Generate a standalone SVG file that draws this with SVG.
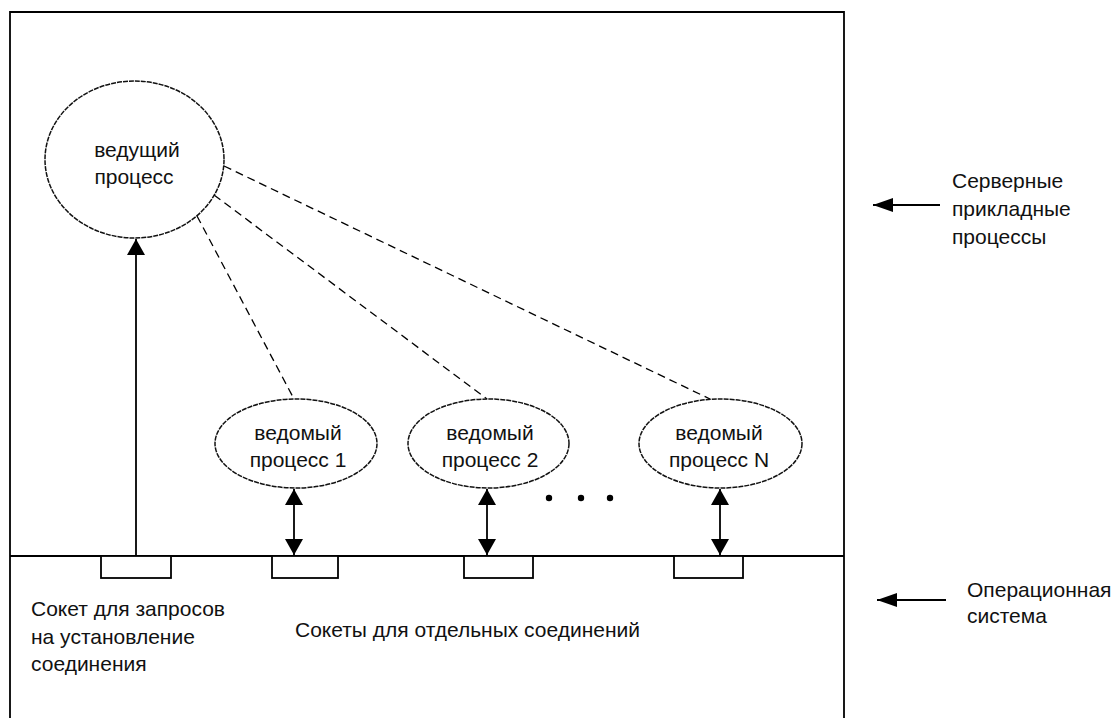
<svg xmlns="http://www.w3.org/2000/svg" width="1117" height="718" viewBox="0 0 1117 718">
  <defs>
    <style>
      .ln{stroke:#000;stroke-width:1.8;fill:none}
      .nd{stroke:#111;stroke-width:1.5;fill:#fff;stroke-dasharray:5,1}
      .dash{stroke:#000;stroke-width:1.3;fill:none;stroke-dasharray:8,5}
      .tx{font-family:"Liberation Sans",Arial,sans-serif;font-size:21px;fill:#111}
      .c{text-anchor:middle}
      .sock{stroke:#000;stroke-width:1.8;fill:#fff}
    </style>
    <marker id="ahb" viewBox="0 0 16 18" refX="16" refY="9" markerWidth="17" markerHeight="18" markerUnits="userSpaceOnUse" orient="auto-start-reverse">
      <path d="M0,0 L16,9 L0,18 z" fill="#000"/>
    </marker>
    <marker id="ahs" viewBox="0 0 20 14" refX="20" refY="7" markerWidth="20" markerHeight="14" markerUnits="userSpaceOnUse" orient="auto-start-reverse">
      <path d="M0,0 L20,7 L0,14 z" fill="#000"/>
    </marker>
  </defs>
  <rect width="1117" height="718" fill="#fff"/>

  <g id="frame">
    <path class="ln" d="M10,718 V12 H844 V718"/>
    <line class="ln" x1="10" y1="556" x2="844" y2="556"/>
  </g>

  <g id="sockets">
    <rect class="sock" x="101" y="556" width="70" height="22"/>
    <rect class="sock" x="272" y="556" width="66" height="22"/>
    <rect class="sock" x="464" y="556" width="69" height="22"/>
    <rect class="sock" x="674" y="556" width="69" height="22"/>
  </g>

  <g id="connectors">
    <line class="dash" x1="197" y1="216" x2="294" y2="399"/>
    <line class="dash" x1="214" y1="195" x2="487" y2="399"/>
    <line class="dash" x1="224" y1="166" x2="710" y2="399"/>
    <line class="ln" x1="136" y1="556" x2="136" y2="239" marker-end="url(#ahb)"/>
    <line class="ln" x1="294" y1="489" x2="294" y2="555" marker-start="url(#ahb)" marker-end="url(#ahb)"/>
    <line class="ln" x1="487" y1="489" x2="487" y2="555" marker-start="url(#ahb)" marker-end="url(#ahb)"/>
    <line class="ln" x1="720" y1="489" x2="720" y2="555" marker-start="url(#ahb)" marker-end="url(#ahb)"/>
    <line class="ln" x1="940" y1="205" x2="873" y2="205" marker-end="url(#ahs)"/>
    <line class="ln" x1="946" y1="600" x2="877" y2="600" marker-end="url(#ahs)"/>
  </g>

  <g id="master">
    <ellipse class="nd" cx="134.5" cy="159.5" rx="89.5" ry="78.5"/>
    <text class="tx c" x="137" y="157">ведущий</text>
    <text class="tx c" x="134" y="184">процесс</text>
  </g>

  <g id="slave1">
    <ellipse class="nd" cx="296" cy="443.5" rx="81" ry="44.5"/>
    <text class="tx c" x="298" y="440">ведомый</text>
    <text class="tx c" x="298" y="467">процесс 1</text>
  </g>
  <g id="slave2">
    <ellipse class="nd" cx="488.5" cy="443.5" rx="80.5" ry="44.5"/>
    <text class="tx c" x="490" y="440">ведомый</text>
    <text class="tx c" x="490" y="467">процесс 2</text>
  </g>
  <g id="slaveN">
    <ellipse class="nd" cx="720.5" cy="443.5" rx="81.5" ry="44.5"/>
    <text class="tx c" x="719" y="440">ведомый</text>
    <text class="tx c" x="719" y="467">процесс N</text>
  </g>

  <g id="dots">
    <circle cx="549" cy="498" r="3.2" fill="#000"/>
    <circle cx="581" cy="498" r="3.2" fill="#000"/>
    <circle cx="610" cy="498" r="3.2" fill="#000"/>
  </g>

  <g id="label-server">
    <text class="tx" x="952" y="188">Серверные</text>
    <text class="tx" x="952" y="216">прикладные</text>
    <text class="tx" x="952" y="244">процессы</text>
  </g>
  <g id="label-os">
    <text class="tx" x="967" y="597">Операционная</text>
    <text class="tx" x="967" y="623">система</text>
  </g>
  <g id="label-listen">
    <text class="tx" x="31" y="616">Сокет для запросов</text>
    <text class="tx" x="31" y="644">на установление</text>
    <text class="tx" x="31" y="671">соединения</text>
  </g>
  <g id="label-conn">
    <text class="tx" x="295" y="637">Сокеты для отдельных соединений</text>
  </g>
</svg>
